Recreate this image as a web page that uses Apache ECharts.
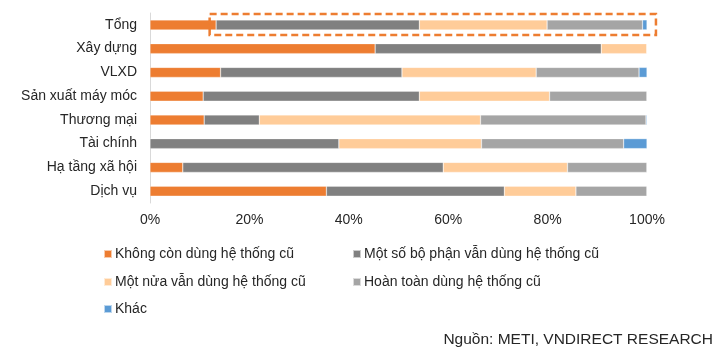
<!DOCTYPE html>
<html><head><meta charset="utf-8">
<script src="https://cdn.jsdelivr.net/npm/echarts@6/dist/echarts.min.js"></script>
<style>html,body{margin:0;padding:0;background:#fff}#c{width:725px;height:356px}</style>
</head><body><div id="c"></div>
<script>
const categories = ['Tổng','Xây dựng','VLXD','Sản xuất máy móc','Thương mại','Tài chính','Hạ tầng xã hội','Dịch vụ'];
const seriesNames = ['Không còn dùng hệ thống cũ','Một số bộ phận vẫn dùng hệ thống cũ','Một nửa vẫn dùng hệ thống cũ','Hoàn toàn dùng hệ thống cũ','Khác'];
const khongCon   = [13.3, 45.3, 14.2, 10.7, 10.9, 0,    6.6, 35.5];
const motSo      = [40.9, 45.5, 36.5, 43.5, 11.1, 38.0, 52.4, 35.8];
const motNua     = [25.7,  9.2, 27.0, 26.2, 44.5, 28.7, 25.0, 14.4];
const hoanToan   = [19.2,  0,   20.7, 19.6, 33.3, 28.6, 16.0, 14.3];
const khac       = [ 0.9,  0,    1.6,  0,    0.2,  4.7,  0,    0];
const tickLabels = ['0%','20%','40%','60%','80%','100%'];
const colors = ['#ED7D31','#808080','#FFCC99','#A5A5A5','#5B9BD5'];
const values = [khongCon, motSo, motNua, hoanToan, khac];

const font = 'Liberation Sans, Arial, sans-serif';
const chart = echarts.init(document.getElementById('c'));
const legendPos = [[103,247],[352,247],[103,275],[352,275],[103,302]];
const option = {
  animation:false,
  textStyle:{fontFamily:font},
  grid:{left:150,right:78,top:13,height:190},
  xAxis:{type:'value',min:0,max:100,interval:20,
    axisLabel:{formatter:function(v){return tickLabels[v/20];},color:'#262626',fontSize:14,margin:10,fontFamily:font},
    axisLine:{show:false},axisTick:{show:false},splitLine:{show:false}},
  yAxis:{type:'category',data:categories,inverse:true,
    axisLabel:{color:'#262626',fontSize:14,margin:13,fontFamily:font},
    axisLine:{show:true,lineStyle:{color:'#d9d9d9',width:1}},axisTick:{show:false}},
  legend: seriesNames.map((n,i)=>({data:[n],left:legendPos[i][0],top:legendPos[i][1],
    itemWidth:8,itemHeight:8,itemGap:0,icon:'rect',padding:0,
    textStyle:{color:'#262626',fontSize:14,fontFamily:font,padding:[0,0,0,-2]}})),
  series: seriesNames.map((n,i)=>({name:n,type:'bar',stack:'s',data:values[i],barWidth:10,
    itemStyle:{color:colors[i],borderColor:'rgba(255,255,255,0.6)',borderWidth:0.5}}))
};
chart.setOption(option);
// dashed highlight box around the "Tổng" row
const p1 = chart.convertToPixel({gridIndex:0},[12,'Tổng']);
const p2 = chart.convertToPixel({gridIndex:0},[101.8,'Tổng']);
chart.setOption({graphic:[
  {type:'text',right:12,top:332,style:{text:'Nguồn: METI, VNDIRECT RESEARCH',fill:'#262626',font:'15.5px '+font}},
  {type:'rect',shape:{x:p1[0],y:p1[1]-11,width:p2[0]-p1[0],height:21},
   style:{fill:'none',stroke:'#ED7D31',lineWidth:2.5,lineDash:[7,4]},z:10}]});
</script></body></html>
